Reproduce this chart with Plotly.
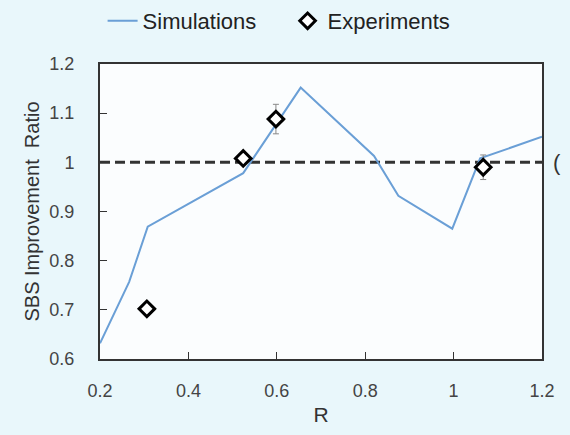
import plotly.graph_objects as go

# Simulation curve
sim_r = [0.20, 0.266, 0.308, 0.524, 0.654, 0.82, 0.875, 0.997, 1.06, 1.20]
sim_ratio = [0.632, 0.757, 0.869, 0.978, 1.152, 1.013, 0.932, 0.865, 1.008, 1.052]

# Experimental points
exp_r = [0.306, 0.524, 0.598, 1.067]
exp_ratio = [0.702, 1.008, 1.088, 0.990]
exp_err = [0.0, 0.01, 0.03, 0.025]

x_ticks = [0.2, 0.4, 0.6, 0.8, 1.0, 1.2]
x_tick_labels = ["0.2", "0.4", "0.6", "0.8", "1", "1.2"]
y_ticks = [0.6, 0.7, 0.8, 0.9, 1.0, 1.1, 1.2]
y_tick_labels = ["0.6", "0.7", "0.8", "0.9", "1", "1.1", "1.2"]

fig = go.Figure()
fig.add_trace(go.Scatter(
    x=sim_r, y=sim_ratio, mode="lines", name="Simulations",
    line=dict(color="#6a9fd6", width=2),
))
fig.add_trace(go.Scatter(
    x=exp_r, y=exp_ratio, mode="markers", name="Experiments",
    marker=dict(symbol="diamond", size=12, color="white",
                line=dict(color="black", width=3)),
    error_y=dict(type="data", array=exp_err, visible=True,
                 color="#888888", thickness=1, width=3),
))

fig.add_shape(type="line", xref="x", yref="y", x0=0.2, x1=1.2, y0=1.0, y1=1.0,
              line=dict(color="#333333", width=3, dash="10px,5px"), layer="below")

fig.add_annotation(x=1.02, y=0.667, xref="paper", yref="paper", text="(",
                   showarrow=False, xanchor="left", yanchor="middle",
                   font=dict(size=22, color="#333333", family="Liberation Sans"))

fig.update_layout(
    width=570, height=435,
    margin=dict(l=100, r=28, t=64, b=76),
    paper_bgcolor="#e9f7fb",
    plot_bgcolor="#fbfdfe",
    font=dict(family="Liberation Sans", color="#333333"),
    showlegend=True,
    legend=dict(orientation="h", x=0.18, y=1.0, yanchor="top", xanchor="left",
                xref="container", yref="container",
                font=dict(size=22, color="#222222"),
                bgcolor="rgba(0,0,0,0)", itemwidth=30, entrywidth=140),
    xaxis=dict(range=[0.2, 1.2], tickvals=x_ticks, ticktext=x_tick_labels,
               ticks="inside", ticklen=7, tickcolor="#333333",
               showgrid=False, zeroline=False, showline=True, linecolor="#333333",
               linewidth=2, mirror=True,
               tickfont=dict(size=18, color="#444444"), ticklabelstandoff=14,
               title=dict(text="R", font=dict(size=21, color="#333333"), standoff=8)),
    yaxis=dict(range=[0.6, 1.2], tickvals=y_ticks, ticktext=y_tick_labels,
               ticks="inside", ticklen=7, tickcolor="#333333",
               showgrid=False, zeroline=False, showline=True, linecolor="#333333",
               linewidth=2, mirror=True,
               tickfont=dict(size=18, color="#444444"), ticklabelstandoff=20,
               title=dict(text="SBS Improvement  Ratio",
                          font=dict(size=20, color="#333333"), standoff=4)),
)

fig.write_html("out.html", config={"displayModeBar": False},
               post_script="document.body.style.margin='0';")
